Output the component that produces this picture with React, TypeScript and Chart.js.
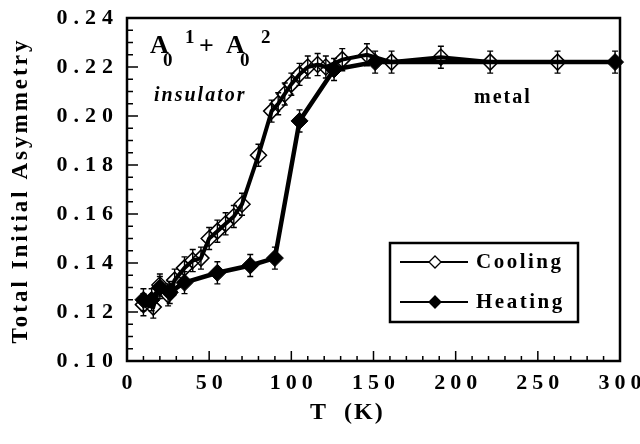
import React, { useEffect, useRef } from "react";
import { Chart, registerables } from "chart.js";
Chart.register(...registerables);

// ---- data ----
const COOLING_T = [10, 16, 20, 25, 29, 35, 40, 45, 50, 55, 60, 65, 70, 80, 88, 92, 96, 100, 105, 110, 116, 121, 131, 146, 161, 191, 221, 262];
const COOLING_A = [0.123, 0.122, 0.131, 0.127, 0.133, 0.138, 0.141, 0.142, 0.150, 0.153, 0.156, 0.159, 0.164, 0.184, 0.202, 0.205, 0.209, 0.213, 0.217, 0.220, 0.221, 0.220, 0.223, 0.225, 0.222, 0.224, 0.222, 0.222];
const COOLING_ERR = [0.0045, 0.0045, 0.0045, 0.0045, 0.0045, 0.0045, 0.0045, 0.0045, 0.0045, 0.0045, 0.0045, 0.0045, 0.0045, 0.0045, 0.0045, 0.0045, 0.0045, 0.0045, 0.0045, 0.0045, 0.0045, 0.0045, 0.0045, 0.0045, 0.0045, 0.0045, 0.0045, 0.0045];
const HEATING_T = [10, 15, 20, 26, 35, 55, 75, 90, 105, 126, 151, 297];
const HEATING_A = [0.125, 0.125, 0.130, 0.128, 0.132, 0.136, 0.139, 0.142, 0.198, 0.219, 0.222, 0.222];
const HEATING_ERR = [0.0045, 0.0045, 0.0045, 0.0045, 0.0045, 0.0045, 0.0045, 0.0045, 0.0045, 0.0045, 0.0045, 0.0045];

const X_TICKS = [0, 50, 100, 150, 200, 250, 300];
const Y_TICKS = [0.10, 0.12, 0.14, 0.16, 0.18, 0.20, 0.22, 0.24];
const X_MINOR_STEP = 10;
const Y_MINOR_STEP = 0.005;

const SERIES_LABELS = ["Cooling", "Heating"];
const X_TITLE = "T  (K)";
const Y_TITLE = "Total Initial Asymmetry";

const FONT = '"Liberation Serif", "Times New Roman", serif';

function diamond(ctx: CanvasRenderingContext2D, cx: number, cy: number, r: number, filled: boolean, lw: number) {
  ctx.beginPath();
  ctx.moveTo(cx, cy - r);
  ctx.lineTo(cx + r, cy);
  ctx.lineTo(cx, cy + r);
  ctx.lineTo(cx - r, cy);
  ctx.closePath();
  ctx.fillStyle = filled ? "#000" : "#fff";
  ctx.fill();
  ctx.lineWidth = lw;
  ctx.strokeStyle = "#000";
  ctx.stroke();
}

function text(ctx: any, s: string, x: number, y: number, font: string, spacing: number, align: CanvasTextAlign = "left", baseline: CanvasTextBaseline = "alphabetic") {
  ctx.font = font;
  ctx.letterSpacing = spacing + "px";
  ctx.textAlign = align;
  ctx.textBaseline = baseline;
  let dx = 0;
  if (align === "right") dx = spacing;
  if (align === "center") dx = spacing / 2;
  ctx.fillStyle = "#000";
  ctx.fillText(s, x + dx, y);
  ctx.letterSpacing = "0px";
}

const decor = {
  id: "decor",
  beforeDatasetsDraw(chart: any) {
    const { ctx, scales } = chart;
    const x = scales.x, y = scales.y;
    ctx.save();
    ctx.strokeStyle = "#000";
    ctx.lineWidth = 1.4;
    chart.data.datasets.forEach((ds: any) => {
      ds.data.forEach((p: any, j: number) => {
        const e = ds.errors[j];
        const px = x.getPixelForValue(p.x);
        const t = y.getPixelForValue(p.y + e);
        const b = y.getPixelForValue(p.y - e);
        ctx.beginPath();
        ctx.moveTo(px, t); ctx.lineTo(px, b);
        ctx.moveTo(px - 3, t); ctx.lineTo(px + 3, t);
        ctx.moveTo(px - 3, b); ctx.lineTo(px + 3, b);
        ctx.stroke();
      });
    });
    ctx.restore();
  },
  afterDraw(chart: any) {
    const { ctx, chartArea: ca, scales } = chart;
    const x = scales.x, y = scales.y;
    ctx.save();
    // frame
    ctx.strokeStyle = "#000";
    ctx.lineWidth = 2.5;
    ctx.strokeRect(ca.left, ca.top, ca.right - ca.left, ca.bottom - ca.top);
    // ticks
    ctx.lineWidth = 1.5;
    ctx.beginPath();
    for (let v = x.min; v <= x.max + 1e-9; v += X_MINOR_STEP) {
      const px = x.getPixelForValue(v);
      const major = X_TICKS.some((t) => Math.abs(t - v) < 1e-6);
      ctx.moveTo(px, ca.bottom);
      ctx.lineTo(px, ca.bottom - (major ? 10 : 5));
    }
    for (let i = 0; ; i++) {
      const v = y.min + i * Y_MINOR_STEP;
      if (v > y.max + 1e-9) break;
      const py = y.getPixelForValue(v);
      const major = Y_TICKS.some((t) => Math.abs(t - v) < 1e-6);
      ctx.moveTo(ca.left, py);
      ctx.lineTo(ca.left + (major ? 11 : 6), py);
    }
    ctx.stroke();
    // tick labels
    Y_TICKS.forEach((v) => {
      text(ctx, v.toFixed(2), 113, y.getPixelForValue(v), `bold 22px ${FONT}`, 6, "right", "middle");
    });
    X_TICKS.forEach((v) => {
      text(ctx, String(v), x.getPixelForValue(v), 383, `bold 22px ${FONT}`, 5, "center", "middle");
    });
    // axis titles
    text(ctx, X_TITLE, 310, 419, `bold 24px ${FONT}`, 2, "left", "alphabetic");
    ctx.save();
    ctx.translate(21, 192);
    ctx.rotate(-Math.PI / 2);
    text(ctx, Y_TITLE, 0, 0, `bold 23px ${FONT}`, 3, "center", "middle");
    ctx.restore();
    // annotations
    const big = `bold 26px ${FONT}`;
    const sub = `bold 19px ${FONT}`;
    text(ctx, "A", 150, 53, big, 0);
    text(ctx, "0", 163, 66, sub, 0);
    text(ctx, "1", 185, 43, sub, 0);
    text(ctx, "+", 199, 54, big, 0);
    text(ctx, "A", 226, 53, big, 0);
    text(ctx, "0", 240, 66, sub, 0);
    text(ctx, "2", 261, 43, sub, 0);
    text(ctx, "insulator", 154, 101, `italic bold 20px ${FONT}`, 2);
    text(ctx, "metal", 474, 103, `bold 20px ${FONT}`, 2);
    // legend
    ctx.lineWidth = 2.5;
    ctx.strokeStyle = "#000";
    ctx.strokeRect(390, 243, 188, 79);
    const rows = [262, 302];
    SERIES_LABELS.forEach((lab, i) => {
      const ry = rows[i];
      ctx.lineWidth = 2;
      ctx.beginPath();
      ctx.moveTo(400, ry); ctx.lineTo(468, ry);
      ctx.stroke();
      diamond(ctx, 435, ry, 6, i === 1, 1.3);
      text(ctx, lab, 476, ry + 1, `bold 21px ${FONT}`, 2.5, "left", "middle");
    });
    ctx.restore();
  },
};

export default function App() {
  const ref = useRef<HTMLCanvasElement>(null);
  useEffect(() => {
    if (!ref.current) return;
    const chart = new Chart(ref.current, {
      type: "line",
      data: {
        datasets: [
          {
            label: SERIES_LABELS[0],
            data: COOLING_T.map((t, i) => ({ x: t, y: COOLING_A[i] })),
            errors: COOLING_ERR,
            borderColor: "#000",
            borderWidth: 4,
            pointStyle: "rectRot",
            pointRadius: 8,
            pointBackgroundColor: "rgba(0,0,0,0)",
            pointBorderColor: "#000",
            pointBorderWidth: 1.5,
            tension: 0,
            clip: false,
          } as any,
          {
            label: SERIES_LABELS[1],
            data: HEATING_T.map((t, i) => ({ x: t, y: HEATING_A[i] })),
            errors: HEATING_ERR,
            borderColor: "#000",
            borderWidth: 4.5,
            pointStyle: "rectRot",
            pointRadius: 8.5,
            pointBackgroundColor: "#000",
            pointBorderColor: "#000",
            pointBorderWidth: 1,
            tension: 0,
            clip: false,
          } as any,
        ],
      },
      options: {
        animation: false,
        responsive: false,
        devicePixelRatio: 1,
        layout: { padding: { left: 127, top: 18, right: 20, bottom: 83 } },
        scales: {
          x: { type: "linear", min: 0, max: 300, display: false },
          y: { type: "linear", min: 0.10, max: 0.24, display: false },
        },
        plugins: { legend: { display: false }, tooltip: { enabled: false } },
      },
      plugins: [decor],
    });
    return () => chart.destroy();
  }, []);
  return (
    <div style={{ position: "fixed", left: 0, top: 0, width: 640, height: 444, background: "#fff" }}>
      <canvas ref={ref} width={640} height={444} />
    </div>
  );
}
